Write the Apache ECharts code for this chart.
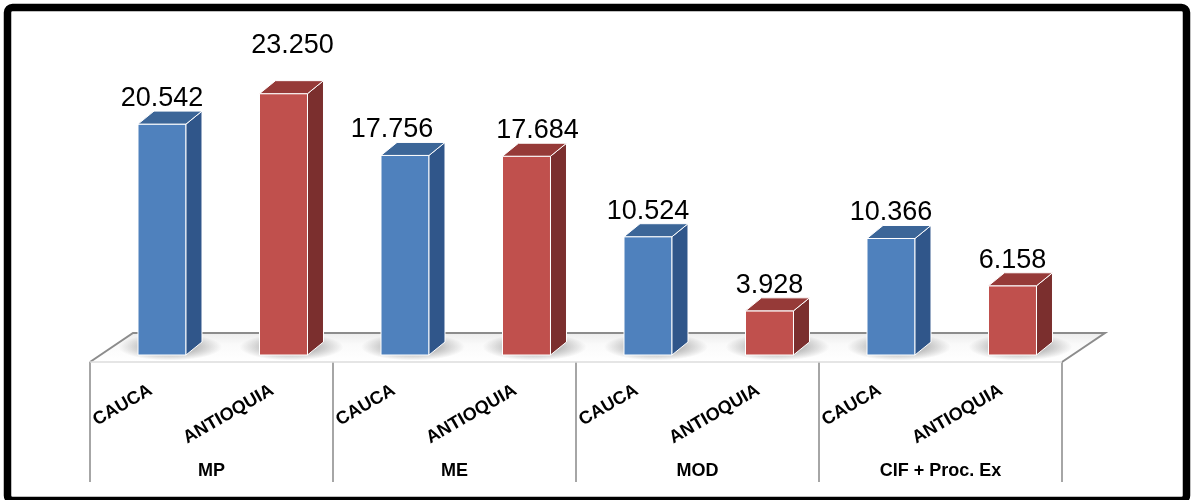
<!DOCTYPE html>
<html>
<head>
<meta charset="utf-8">
<script src="https://cdn.jsdelivr.net/npm/echarts@6/dist/echarts.min.js"></script>
<style>
  html, body { margin: 0; padding: 0; background: #fff; }
  #chart { width: 1191px; height: 500px; }
</style>
</head>
<body>
<div id="chart"></div>
<script>
// Cost components, Cauca vs Antioquia
const subCategories = ['CAUCA', 'ANTIOQUIA', 'CAUCA', 'ANTIOQUIA', 'CAUCA', 'ANTIOQUIA', 'CAUCA', 'ANTIOQUIA'];
const groups = ['MP', 'ME', 'MOD', 'CIF + Proc. Ex'];
const cauca = [20.542, 17.756, 10.524, 10.366];
const antioquia = [23.250, 17.684, 3.928, 6.158];

const FONT = '"Liberation Sans", Arial, sans-serif';

// 3D box look
const palette = [
  { front: '#4F81BD', top: '#3C6698', side: '#30568A' },
  { front: '#C0504D', top: '#963A38', side: '#7B2F2E' }
];
const DEPTH_X = 16, DEPTH_Y = 13;          // bar depth projection
const FLOOR_DX = 43, FLOOR_BACK = 22, FLOOR_FRONT = 7;
// hand-placed value label shifts [dx, dy], keyed "series-index"
const labelShift = { '1-0': [9, -23], '0-1': [-13, 0], '1-1': [11, 0] };

const shadowFill = {
  type: 'radial', x: 0.5, y: 0.5, r: 0.5,
  colorStops: [
    { offset: 0, color: 'rgba(0,0,0,0.42)' },
    { offset: 0.55, color: 'rgba(0,0,0,0.22)' },
    { offset: 1, color: 'rgba(0,0,0,0)' }
  ]
};

function renderBox(params, api) {
  const ci = api.value(0), v = api.value(1);
  const base = api.coord([ci, 0]);
  const tip = api.coord([ci, v]);
  const band = api.size([1, 0])[0];
  const cx = base[0] + band * 0.0926;
  const hw = band * 0.1975;
  const L = cx - hw, R = cx + hw, y0 = base[1], y1 = tip[1];
  const c = palette[params.seriesIndex - 1];
  const shift = labelShift[(params.seriesIndex - 1) + '-' + params.dataIndex] || [0, 0];
  const sx = cx + DEPTH_X / 2, sy = y0 - 8;
  return {
    type: 'group',
    children: [
      { // soft elliptical shadow on the floor
        type: 'circle',
        shape: { cx: sx, cy: sy, r: 52 },
        originX: sx, originY: sy,
        scaleY: 0.26,
        style: { fill: shadowFill }
      },
      {
        type: 'rect',
        shape: { x: L, y: y1, width: R - L, height: y0 - y1 },
        style: { fill: c.front, stroke: '#fff', lineWidth: 1 }
      },
      {
        type: 'polygon',
        shape: { points: [[R, y1], [R + DEPTH_X, y1 - DEPTH_Y], [R + DEPTH_X, y0 - DEPTH_Y], [R, y0]] },
        style: { fill: c.side, stroke: '#fff', lineWidth: 1 }
      },
      {
        type: 'polygon',
        shape: { points: [[L, y1], [R, y1], [R + DEPTH_X, y1 - DEPTH_Y], [L + DEPTH_X, y1 - DEPTH_Y]] },
        style: { fill: c.top, stroke: '#fff', lineWidth: 1 }
      },
      {
        type: 'text',
        style: {
          text: v.toFixed(3),
          x: cx + shift[0],
          y: y1 - DEPTH_Y + 1 + shift[1],
          align: 'center',
          verticalAlign: 'bottom',
          fill: '#000',
          fontSize: 27,
          fontFamily: FONT
        }
      }
    ]
  };
}

function renderFloor(params, api) {
  const cs = params.coordSys;
  const y0 = api.coord([0, 0])[1];
  const xl = cs.x, xr = cs.x + cs.width;
  const yf = y0 + FLOOR_FRONT, yb = y0 - FLOOR_BACK;
  return {
    type: 'group',
    children: [
      {
        type: 'polygon',
        shape: { points: [[xl, yf], [xr, yf], [xr + FLOOR_DX, yb], [xl + FLOOR_DX, yb]] },
        style: {
          fill: {
            type: 'linear', x: 0, y: 0, x2: 0, y2: 1,
            colorStops: [{ offset: 0, color: '#ececec' }, { offset: 0.4, color: '#fafafa' }, { offset: 1, color: '#ffffff' }]
          }
        }
      },
      {
        type: 'polyline',
        shape: { points: [[xl, yf], [xl + FLOOR_DX, yb], [xr + FLOOR_DX, yb], [xr, yf]] },
        style: { fill: null, stroke: '#8c8c8c', lineWidth: 2 }
      },
      {
        type: 'line',
        shape: { x1: xl, y1: yf, x2: xr, y2: yf },
        style: { stroke: '#dcdcdc', lineWidth: 1.5 }
      }
    ]
  };
}

const chart = echarts.init(document.getElementById('chart'), null, { renderer: 'canvas' });
chart.setOption({
  animation: false,
  backgroundColor: '#fff',
  grid: { left: 90, right: 129, top: 74, bottom: 145 },
  xAxis: [
    {
      type: 'category',
      data: subCategories,
      position: 'bottom',
      axisLine: { show: false },
      axisTick: { show: false },
      axisLabel: {
        interval: 0, rotate: 30, margin: 34,
        color: '#000', fontSize: 18, fontWeight: 'bold', fontFamily: FONT
      }
    },
    {
      type: 'category',
      data: groups,
      position: 'bottom',
      offset: 7,
      axisLine: { show: false },
      axisTick: { show: true, length: 120, lineStyle: { color: '#a6a6a6', width: 2 } },
      axisLabel: {
        interval: 0, margin: 100,
        color: '#000', fontSize: 18, fontWeight: 'bold', fontFamily: FONT
      }
    }
  ],
  yAxis: { type: 'value', min: 0, max: 25, show: false },
  graphic: [{
    type: 'rect',
    shape: { x: 7.5, y: 7.5, width: 1179, height: 493, r: 5 },
    style: { fill: null, stroke: '#000', lineWidth: 7.5 },
    z: 100
  }],
  series: [
    {
      type: 'custom', name: 'floor', z: 1,
      xAxisIndex: 0, yAxisIndex: 0,
      renderItem: renderFloor,
      data: [[0, 0]],
      silent: true
    },
    {
      type: 'custom', name: 'CAUCA', z: 2,
      xAxisIndex: 0, yAxisIndex: 0,
      renderItem: renderBox,
      data: cauca.map((v, i) => [2 * i, v])
    },
    {
      type: 'custom', name: 'ANTIOQUIA', z: 2,
      xAxisIndex: 0, yAxisIndex: 0,
      renderItem: renderBox,
      data: antioquia.map((v, i) => [2 * i + 1, v])
    }
  ]
});
</script>
</body>
</html>
